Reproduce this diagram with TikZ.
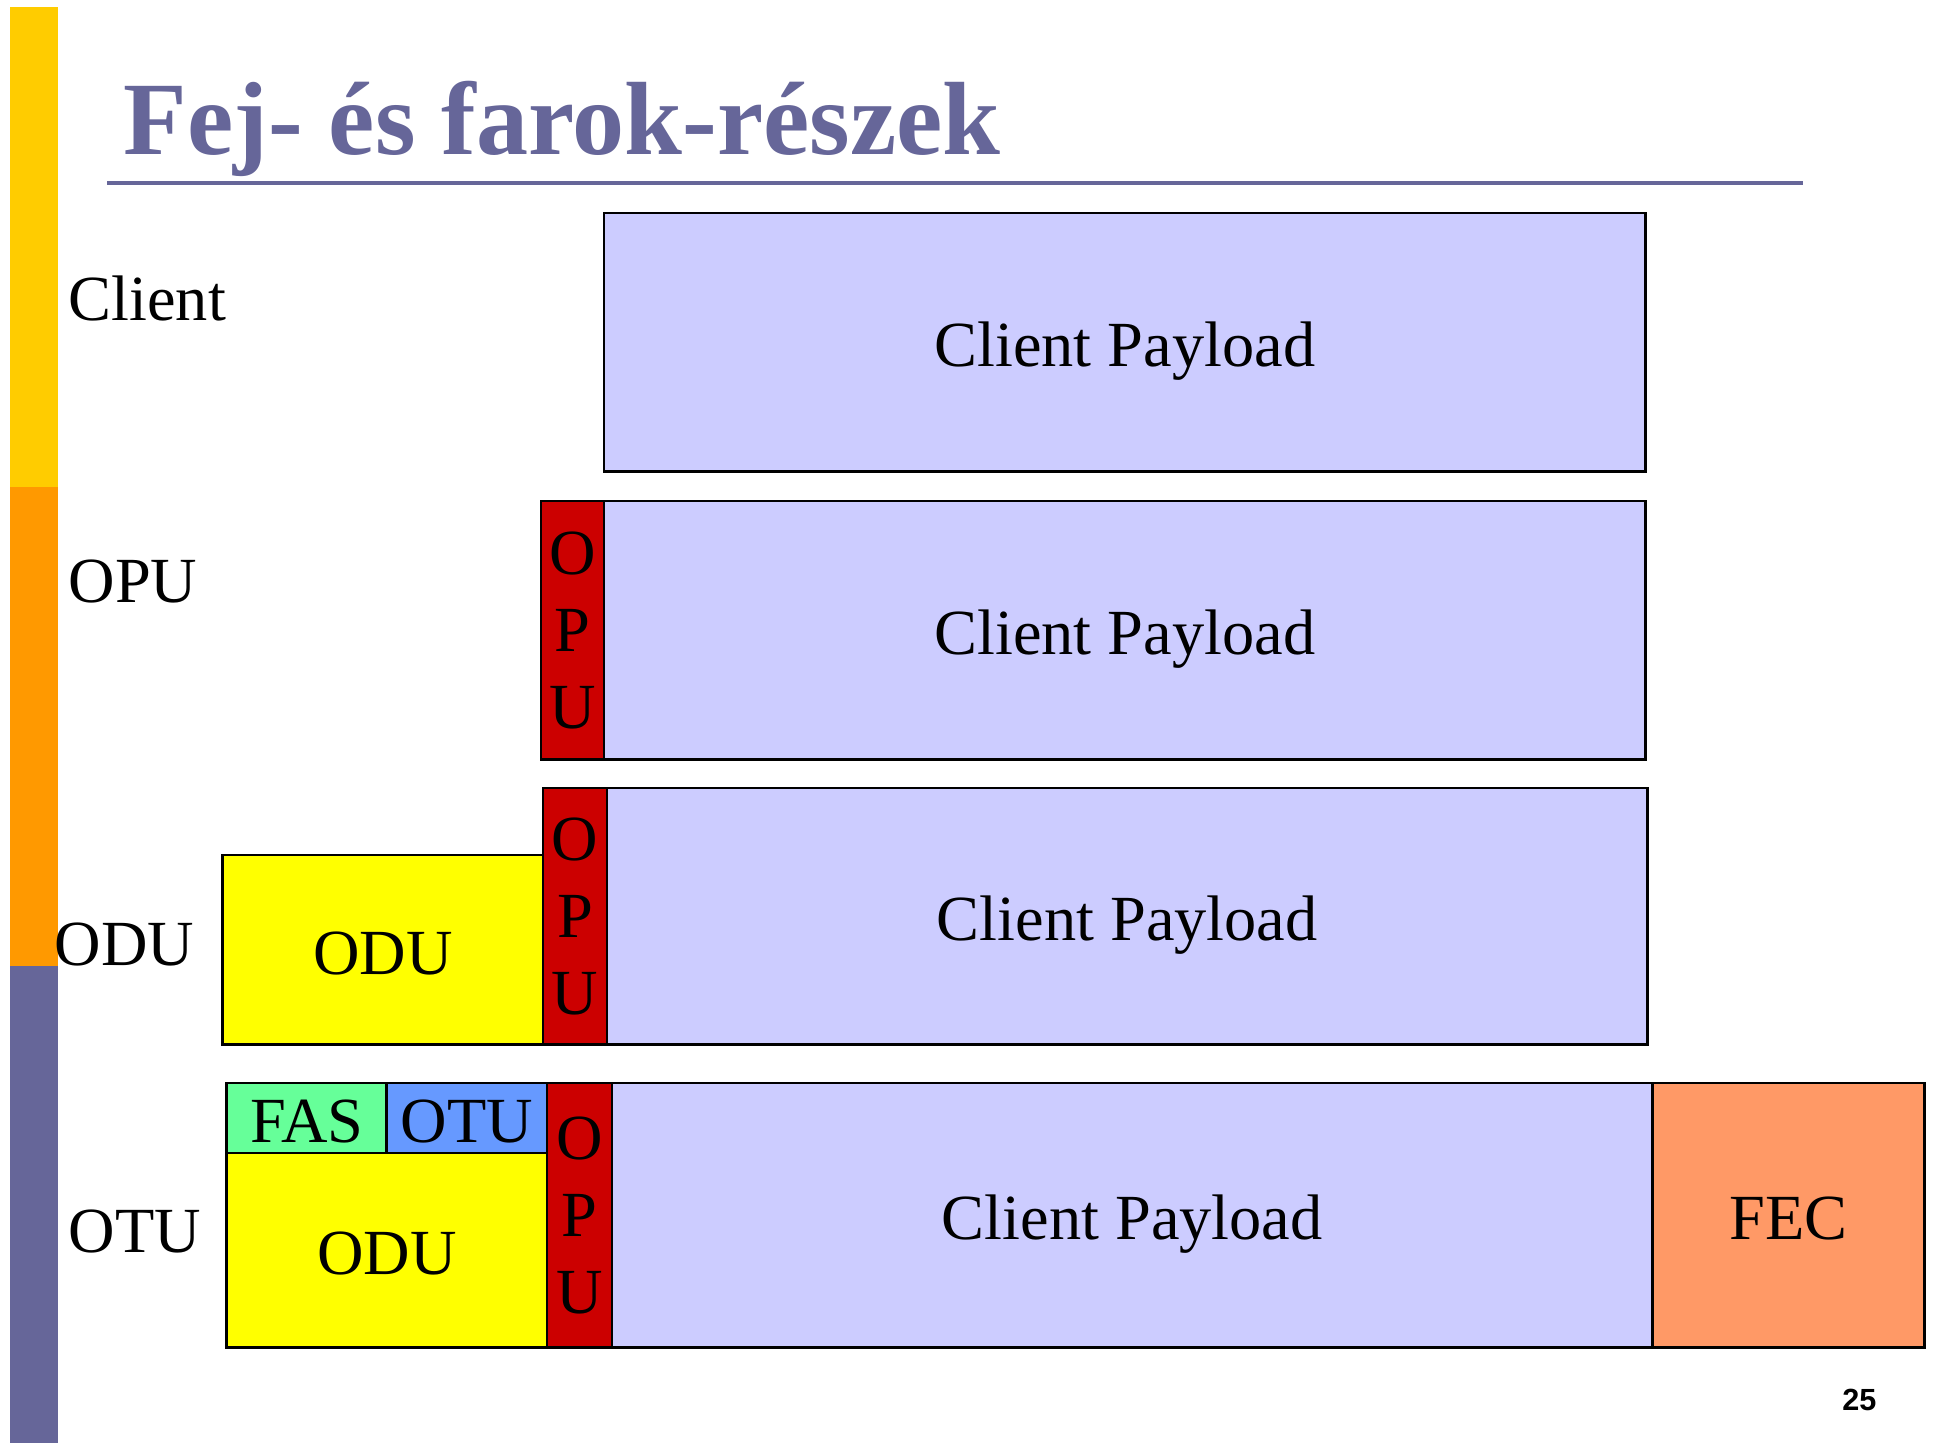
\documentclass[tikz,border=0pt]{standalone}
\usepackage{fontspec}
\setmainfont{Liberation Serif}
\newfontfamily\numfont{Liberation Sans}
\usetikzlibrary{positioning}
\definecolor{slidepurple}{HTML}{666699}
\definecolor{slideyellow}{HTML}{FFCC00}
\definecolor{slideorange}{HTML}{FF9900}
\definecolor{payload}{HTML}{CCCCFF}
\definecolor{opured}{HTML}{CC0000}
\definecolor{oduyellow}{HTML}{FFFF00}
\definecolor{fasgreen}{HTML}{66FF99}
\definecolor{otublue}{HTML}{6699FF}
\definecolor{fecorange}{HTML}{FF9966}

\begin{document}
\begin{tikzpicture}[x=0.01cm, y=-0.01cm,
  box/.style={draw=black, line width=0.8pt, rectangle, inner sep=0, outer sep=0, anchor=north west, font=\fontsize{18.3}{22}\selectfont},
  lbl/.style={text height=14pt, text depth=0pt},
  opubox/.style={box, fill=opured, align=center, font=\fontsize{18.3}{21.9}\selectfont},
  side/.style={inner sep=0, anchor=base west, font=\fontsize{18.3}{22}\selectfont}]
\useasboundingbox (0,0) rectangle (1934,1443);
\foreach \c/\ya/\yb in {slideyellow/7/487, slideorange/487/966, slidepurple/966/1443}
  \fill[\c] (10,\ya) rectangle (58,\yb);
\node[anchor=base west, inner sep=0, text=slidepurple, font=\bfseries\fontsize{29.6}{34}\selectfont] (title) at (123,155) {Fej- és farok-részek};
\draw[slidepurple, line width=1.14pt] (107,183) -- (1803,183);
\foreach \t/\x/\y in {Client/68/321, OPU/68/602, ODU/54/965, OTU/68/1252}
  \node[side] (side\t) at (\x,\y) {\t};
\foreach \n/\x/\y/\w/\h in {1/604/213/10.41/2.58, 2/604/501/10.41/2.58, 3/607/788/10.40/2.56, 4/612/1083/10.40/2.64}
  \node[box, lbl, fill=payload, minimum width=\w cm, minimum height=\h cm] (pay\n) at (\x,\y) {Client Payload};
\node[opubox, minimum width=0.63cm, minimum height=2.58cm, anchor=north east] (opu2) at (pay2.north west) {O\\P\\U};
\node[opubox, minimum width=0.64cm, minimum height=2.56cm, anchor=north east] (opu3) at (pay3.north west) {O\\P\\U};
\node[box, lbl, fill=oduyellow, minimum width=3.20cm, minimum height=1.89cm, anchor=south east] (odu3) at (opu3.south west) {ODU};
\node[opubox, minimum width=0.65cm, minimum height=2.64cm, anchor=north east] (opu4) at (pay4.north west) {O\\P\\U};
\node[box, lbl, fill=otublue, minimum width=1.60cm, minimum height=0.70cm, anchor=north east] (otu) at (opu4.north west) {OTU};
\node[box, lbl, fill=fasgreen, minimum width=1.60cm, minimum height=0.70cm, anchor=north east] (fas) at (otu.north west) {FAS};
\node[box, lbl, fill=oduyellow, minimum width=3.20cm, minimum height=1.94cm] (odu4) at (fas.south west) {ODU};
\node[box, lbl, fill=fecorange, minimum width=2.72cm, minimum height=2.64cm] (fec) at (pay4.north east) {FEC};
\node[anchor=base east, inner sep=0, font=\numfont\bfseries\fontsize{8.7}{10}\selectfont] (pagenum) at (1877,1410) {25};
\end{tikzpicture}
\end{document}
